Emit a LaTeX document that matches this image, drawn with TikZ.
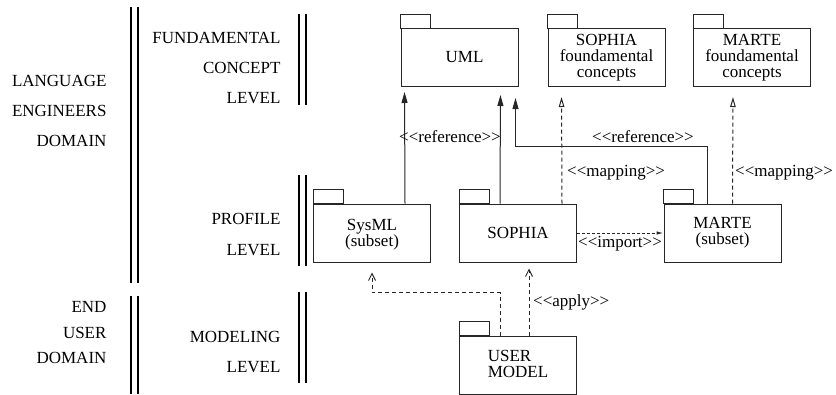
\documentclass[tikz,border=0pt]{standalone}
\usepackage{fontspec}
\setmainfont{Liberation Serif}
\newfontfamily\diagfont{Liberation Serif}
\usepackage{tikz}
\usetikzlibrary{arrows.meta, calc}

% stereotype text such as <<apply>>
\newcommand{\stype}[1]{\textless\kern0pt\textless#1\textgreater\kern0pt\textgreater}

\tikzset{
  pkg/.style={rectangle, draw=black!85, line width=1pt, minimum width=117pt, minimum height=58pt, inner sep=0pt, align=center, font=\diagfont\fontsize{17}{16}\selectfont},
  lvl/.style={anchor=east, align=right, font=\diagfont\fontsize{17}{30}\selectfont},
  stlabel/.style={font=\diagfont\fontsize{17}{20}\selectfont, inner sep=1pt},
  bar/.style={line width=2.2pt},
  refarrow/.style={-{Triangle[length=11pt,width=6pt]}, draw=black!85, line width=1pt},
  maparrow/.style={-{Triangle[open,length=10pt,width=5.5pt,line width=1pt]}, draw=black!85, line width=1pt, dash pattern=on 4pt off 3pt},
  usearrow/.style={-{Straight Barb[length=7pt,width=7pt,line width=1pt]}, draw=black!85, line width=1pt, dash pattern=on 4pt off 3pt},
  imparrow/.style={-{Latex[length=7pt,width=3.5pt]}, draw=black!85, line width=1pt, dash pattern=on 3pt off 2pt}
}

\begin{document}
\begin{tikzpicture}[x=1pt, y=-1pt]
\useasboundingbox (0,0) rectangle (836,394);

% Domain and level separators
\foreach \x in {131,138} {
  \draw[bar] (\x,7) -- (\x,283);
  \draw[bar] (\x,296) -- (\x,394);
}
\foreach \x in {299,306} {
  \draw[bar] (\x,14) -- (\x,105);
  \draw[bar] (\x,175) -- (\x,266);
  \draw[bar] (\x,292) -- (\x,383);
}

% Domains
\node[lvl] (langdom) at (110,111) {LANGUAGE\\ENGINEERS\\DOMAIN};
\node[lvl, font=\diagfont\fontsize{17}{25.5}\selectfont] (userdom) at (110,333) {END\\USER\\DOMAIN};

% Levels
\node[lvl] (fclevel) at (284,68) {FUNDAMENTAL\\CONCEPT\\LEVEL};
\node[lvl, font=\diagfont\fontsize{17}{31}\selectfont] (proflevel) at (284,234) {PROFILE\\LEVEL};
\node[lvl] (modlevel) at (284,352) {MODELING\\LEVEL};

% Fundamental concept packages
\node[pkg] (uml) at (459.5,57.5) {\hspace*{10pt}UML};
\node[pkg] (sophfc) at (606.5,57.5) {SOPHIA\\foundamental\\concepts};
\node[pkg] (martefc) at (752,57.5) {MARTE\\foundamental\\concepts};

% Profile packages
\node[pkg] (sysml) at (372,233) {\\[-2pt]SysML\\(subset)};
\node[pkg] (sophia) at (518,233) {\\[-4pt]SOPHIA};
\node[pkg] (marte) at (722.5,233) {MARTE\\(subset)};

% Model
\node[pkg, align=left] (usermodel) at (518,365) {\\[-6pt]USER\\MODEL};

% Package tabs
\foreach \p in {uml,sophfc,martefc,sysml,sophia,marte,usermodel}
  \draw[draw=black!85, line width=1pt] (\p.north west) rectangle ++(30,-14);

% References to UML
\draw[refarrow, shorten >=5pt] ($(sysml.north west)+(92,0)$) -- ($(uml.south west)+(4,0)$);
\draw[refarrow, shorten >=8pt] ($(sophia.north west)+(41,0)$) -- ($(uml.south east)+(-18,0)$);
\draw[refarrow, shorten >=11pt] ($(marte.north west)+(44,0)$) |- ($(uml.south east)+(-3,59)$) -- ($(uml.south east)+(-3,0)$);
\node[stlabel] (lref1) at (450,137) {\stype{reference}};
\node[stlabel] (lref2) at (643,137) {\stype{reference}};

% Mappings to the foundamental concepts
\draw[maparrow, shorten >=10pt] ($(sophia.north west)+(103,0)$) -- ($(sophfc.south west)+(14,0)$);
\draw[maparrow, shorten >=10pt] ($(marte.north west)+(69,0)$) -- ($(martefc.south west)+(40,0)$);
\node[stlabel, anchor=west] (lmap1) at (566,173) {\stype{mapping}};
\node[stlabel, anchor=west] (lmap2) at (734,173) {\stype{mapping}};

% Import
\draw[imparrow] (sophia.east) -- (marte.west);
\node[stlabel] (limport) at (620,244) {\stype{import}};

% Apply
\draw[usearrow, shorten >=6pt] ($(usermodel.north west)+(70,0)$) -- ($(sophia.south west)+(70,0)$);
\node[stlabel, anchor=west] (lapply) at (532,302) {\stype{apply}};
\draw[usearrow, shorten >=10pt] ($(usermodel.north west)+(41,0)$) |- ($(sysml.south)+(0,30)$) -- (sysml.south);

\end{tikzpicture}
\end{document}
